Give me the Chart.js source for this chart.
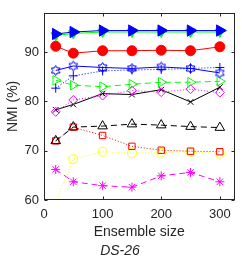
<!DOCTYPE html>
<html>
<head>
<meta charset="utf-8">
<script src="https://cdn.jsdelivr.net/npm/chart.js@4/dist/chart.umd.min.js"></script>
<style>
html, body { margin: 0; padding: 0; background: #fff; }
</style>
</head>
<body>
<canvas id="chart" width="242" height="258"></canvas>
<script>
// values
const ensembleSizes = [20, 50, 100, 150, 200, 250, 300];
const xTicks = [0, 100, 200, 300];
const yTicks = [60, 70, 80, 90];

const blueTriangle = [93.7, 94.1, 94.4, 94.4, 94.4, 94.4, 94.4];
const greenTriangle = [93.4, 93.8, 94.1, 94.1, 94.1, 94.1, 94.1];
const redCircle = [91.2, 89.8, 90.3, 90.3, 90.4, 90.3, 91.1];
const blueHexagram = [86.3, 87.2, 86.9, 86.7, 87.0, 86.7, 85.8];
const bluePlus = [82.7, 85.2, 86.2, 86.4, 86.5, 86.7, 86.9];
const greenOpenTriangle = [84.3, 83.3, 83.0, 83.5, 83.9, 83.9, 84.1];
const magentaDiamond = [77.9, 80.3, 81.2, 82.2, 81.9, 82.5, 81.8];
const blackCross = [78.3, 79.4, 81.6, 81.4, 82.4, 79.9, 82.9];
const blackTriangle = [72.0, 74.8, 75.0, 75.4, 75.2, 74.9, 74.7];
const redSquare = [72.0, 74.8, 73.1, 70.9, 70.1, 69.9, 69.8];
const yellowCircle = [59.4, 68.3, 69.8, 69.5, 69.6, 69.8, 69.4];
const magentaAsterisk = [66.2, 63.7, 62.9, 62.6, 64.9, 65.6, 63.7];

const Y_MIN = 60, Y_MAX = 98, X_MIN = 0, X_MAX = 325;
const AXIS = '#262626';
const FONT = "'Liberation Sans', Arial, Helvetica, sans-serif";

// hexagram marker (chart.js has none)
function hexagram(color, r) {
    const s = Math.ceil(r * 2 + 3);
    const c = document.createElement('canvas');
    c.width = c.height = s;
    const g = c.getContext('2d');
    const ri = r / Math.sqrt(3);
    g.beginPath();
    for (let i = 0; i < 12; i++) {
        const a = -Math.PI / 2 + i * Math.PI / 6;
        const rr = i % 2 ? ri : r;
        g.lineTo(s / 2 + rr * Math.cos(a), s / 2 + rr * Math.sin(a));
    }
    g.closePath();
    g.strokeStyle = color;
    g.lineWidth = 1;
    g.stroke();
    return c;
}

function series(values, color, marker, opts) {
    return Object.assign({
        data: values.map((v, i) => ({ x: ensembleSizes[i], y: v })),
        borderColor: color,
        borderWidth: 1,
        pointStyle: marker,
        pointBorderColor: color,
        pointBackgroundColor: 'rgba(0,0,0,0)',
        pointBorderWidth: 1,
        pointRadius: ctx => (ctx.raw && ctx.raw.y < Y_MIN ? 0 : 4),
        tension: 0,
        fill: false
    }, opts || {});
}

const dotted = [1, 2];
const dashed = [6, 4];

const datasets = [
    series(blueTriangle, '#0000ff', 'triangle', { pointRotation: 90, pointBackgroundColor: '#0000ff', pointRadius: 6.5 }),
    series(greenTriangle, '#00ff00', 'triangle', { pointRotation: 180, pointBackgroundColor: '#00ff00', pointRadius: 5.5 }),
    series(redCircle, '#ff0000', 'circle', { pointBackgroundColor: '#ff0000', pointRadius: 5 }),
    series(blueHexagram, '#0000ff', hexagram('#0000ff', 5)),
    series(bluePlus, '#0000ff', 'cross', { borderDash: dotted, pointRadius: 4.5 }),
    series(greenOpenTriangle, '#00ff00', 'triangle', { borderDash: dashed, pointRotation: 90, pointRadius: 5.5 }),
    series(magentaDiamond, '#ff00ff', 'rectRot', { borderDash: dotted, pointRadius: 4.5 }),
    series(blackCross, '#000000', 'crossRot', { pointRadius: 4 }),
    series(blackTriangle, '#000000', 'triangle', { borderDash: dashed, pointRadius: 5.5 }),
    series(redSquare, '#ff0000', 'rect', { borderDash: dotted, pointRadius: 4.5 }),
    series(yellowCircle, '#ffff00', 'circle', { borderDash: dotted, pointRadius: ctx => (ctx.raw && ctx.raw.y < Y_MIN ? 0 : 4.5) }),
    series(magentaAsterisk, '#ff00ff', 'star', { borderDash: dashed, pointRadius: 4.5 })
];

// matlab style box with inward ticks
const boxPlugin = {
    id: 'box',
    afterDatasetsDraw(chart) {
        const { ctx, chartArea: a, scales } = chart;
        const L = Math.round(a.left) + 0.5, R = Math.round(a.right) - 0.5;
        const T = Math.round(a.top) + 0.5, B = Math.round(a.bottom) - 0.5;
        ctx.save();
        ctx.strokeStyle = AXIS;
        ctx.lineWidth = 1;
        ctx.strokeRect(L, T, R - L, B - T);
        ctx.beginPath();
        scales.x.ticks.forEach(t => {
            const px = Math.round(scales.x.getPixelForValue(t.value)) + 0.5;
            ctx.moveTo(px, B); ctx.lineTo(px, B - 3);
            ctx.moveTo(px, T); ctx.lineTo(px, T + 3);
        });
        scales.y.ticks.forEach(t => {
            const py = Math.round(scales.y.getPixelForValue(t.value)) + 0.5;
            ctx.moveTo(L, py); ctx.lineTo(L + 3, py);
            ctx.moveTo(R, py); ctx.lineTo(R - 3, py);
        });
        ctx.stroke();
        ctx.restore();
    }
};

new Chart(document.getElementById('chart').getContext('2d'), {
    type: 'line',
    data: { datasets },
    options: {
        responsive: false,
        animation: false,
        devicePixelRatio: 1,
        layout: { padding: { left: 0, right: 2, top: 4, bottom: 0 } },
        plugins: {
            legend: { display: false },
            tooltip: { enabled: false },
            title: {
                display: true,
                position: 'bottom',
                text: 'DS-26',
                color: AXIS,
                font: { family: FONT, size: 14, style: 'italic', weight: 'normal', lineHeight: 1 },
                padding: { top: 2, bottom: 0 }
            }
        },
        scales: {
            x: {
                type: 'linear',
                min: X_MIN,
                max: X_MAX,
                afterBuildTicks: s => { s.ticks = xTicks.map(v => ({ value: v })); },
                afterFit: s => { s.height = 42; },
                grid: { display: false, drawTicks: false },
                border: { display: false },
                ticks: { color: AXIS, font: { family: FONT, size: 13 }, padding: 7, maxRotation: 0 },
                title: {
                    display: true,
                    text: 'Ensemble size',
                    color: AXIS,
                    font: { family: FONT, size: 14, lineHeight: 1.2 },
                    padding: { top: 0, bottom: 1 }
                }
            },
            y: {
                type: 'linear',
                min: Y_MIN,
                max: Y_MAX,
                afterBuildTicks: s => { s.ticks = yTicks.map(v => ({ value: v })); },
                afterFit: s => { s.width = 44; },
                grid: { display: false, drawTicks: false },
                border: { display: false },
                ticks: { color: AXIS, font: { family: FONT, size: 13 }, padding: 5 },
                title: {
                    display: true,
                    text: 'NMI (%)',
                    color: AXIS,
                    font: { family: FONT, size: 14, lineHeight: 1.2 },
                    padding: { top: 5, bottom: 0 }
                }
            }
        }
    },
    plugins: [boxPlugin]
});
</script>
</body>
</html>
